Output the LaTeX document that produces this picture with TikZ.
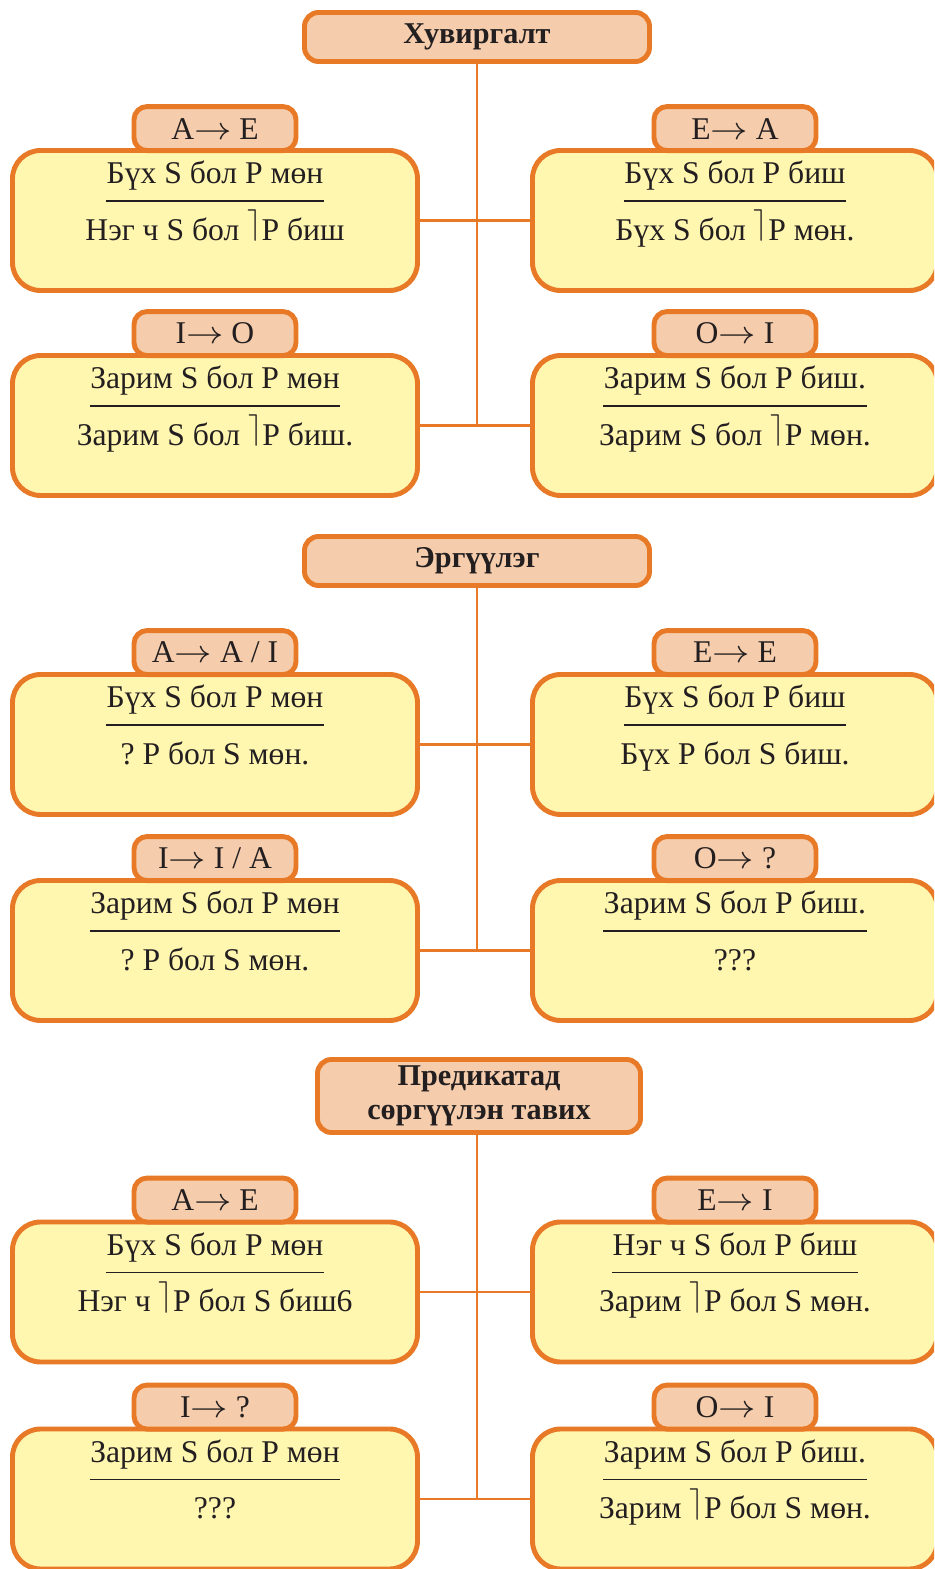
\documentclass[tikz,border=0pt]{standalone}
\usepackage{fontspec}
\setmainfont{Liberation Serif}
\usepackage{tikz}
\usetikzlibrary{positioning}
\definecolor{orangeline}{RGB}{232,121,38}
\definecolor{tagfill}{RGB}{246,205,172}
\definecolor{boxfill}{RGB}{255,246,176}
\definecolor{textgray}{RGB}{35,31,32}
\frenchspacing

\tikzset{
  titlebox/.style={draw=orangeline, fill=tagfill, line width=1.4pt, rounded corners=0.14cm,
    minimum width=3.45cm, minimum height=0.49cm, inner sep=0pt, align=center,
    text=textgray, font=\fontsize{8.6}{9.7}\selectfont\bfseries},
  bodybox/.style={draw=orangeline, fill=boxfill, line width=1.4pt, rounded corners=0.28cm,
    minimum width=4.05cm, minimum height=1.40cm},
  tagbox/.style={draw=orangeline, fill=tagfill, line width=1.4pt, rounded corners=0.13cm,
    minimum width=1.62cm, minimum height=0.44cm, inner sep=0pt,
    text=textgray, font=\fontsize{9}{10}\selectfont},
  linetext/.style={inner sep=0pt, text height=0.22cm, text depth=0.165cm,
    text=textgray, font=\fontsize{9}{10}\selectfont},
  link/.style={draw=orangeline, line width=0.6pt}
}

% negation sign and arrow
\newcommand{\ngt}{\raisebox{0.21em}{$\rceil$}}
\newcommand{\imp}{\scalebox{1.15}[1]{$\rightarrow$}\ }

% box with tag, premise and conclusion
\newcommand{\ruleblock}[6]{%
  \node[bodybox] (#1) at (#2,#3) {};
  \node[tagbox, above=-0.05cm of #1.north] (#1tag) {#4};
  \node[linetext, below=0.13cm of #1.north] (#1a) {#5};
  \draw[textgray, line width=0.5pt] (#1a.south west) -- (#1a.south east);
  \node[linetext, below=0.165cm of #1a] (#1b) {#6};
}

\begin{document}
\begin{tikzpicture}
        \useasboundingbox (0,0) rectangle (9.34,15.69);
        \clip (0,0) rectangle (9.34,15.69);
        % Хувиргалт
        \node[titlebox] (huv) at (4.77,15.32) {Хувиргалт};
        \ruleblock{huvAE}{2.15}{13.485}{A\imp E}{Бүх S бол P мөн}{Нэг ч S бол \ngt P биш}
        \ruleblock{huvEA}{7.35}{13.485}{E\imp A}{Бүх S бол P биш}{Бүх S бол \ngt P мөн.}
        \ruleblock{huvIO}{2.15}{11.435}{I\imp O}{Зарим S бол P мөн}{Зарим S бол \ngt P биш.}
        \ruleblock{huvOI}{7.35}{11.435}{O\imp I}{Зарим S бол P биш.}{Зарим S бол \ngt P мөн.}
        \draw[link] (huvAE.east) -- (huvEA.west);
        \draw[link] (huvIO.east) -- (huvOI.west);
        \draw[link] (huv.south) -- (huv.south |- huvIO.east);
        % Эргүүлэг
        \node[titlebox] (erg) at (4.77,10.08) {Эргүүлэг};
        \ruleblock{ergAA}{2.15}{8.245}{A\imp A / I}{Бүх S бол P мөн}{? P бол S мөн.}
        \ruleblock{ergEE}{7.35}{8.245}{E\imp E}{Бүх S бол P биш}{Бүх P бол S биш.}
        \ruleblock{ergII}{2.15}{6.185}{I\imp I / A}{Зарим S бол P мөн}{? P бол S мөн.}
        \ruleblock{ergOO}{7.35}{6.185}{O\imp ?}{Зарим S бол P биш.}{???}
        \draw[link] (ergAA.east) -- (ergEE.west);
        \draw[link] (ergII.east) -- (ergOO.west);
        \draw[link] (erg.south) -- (erg.south |- ergII.east);
        % Предикатад сөргүүлэн тавих
        \node[titlebox, minimum width=3.23cm, minimum height=0.73cm] (pred) at (4.79,4.73) {Предикатад\\сөргүүлэн тавих};
        \ruleblock{predAE}{2.15}{2.77}{A\imp E}{Бүх S бол P мөн}{Нэг ч \ngt P бол S биш6}
        \ruleblock{predEI}{7.35}{2.77}{E\imp I}{Нэг ч S бол P биш}{Зарим \ngt P бол S мөн.}
        \ruleblock{predIQ}{2.15}{0.70}{I\imp ?}{Зарим S бол P мөн}{???}
        \ruleblock{predOI}{7.35}{0.70}{O\imp I}{Зарим S бол P биш.}{Зарим \ngt P бол S мөн.}
        \draw[link] (predAE.east) -- (predEI.west);
        \draw[link] (predIQ.east) -- (predOI.west);
        \draw[link] (pred.south -| erg.south) -- (predIQ.east -| erg.south);
\end{tikzpicture}
\end{document}
